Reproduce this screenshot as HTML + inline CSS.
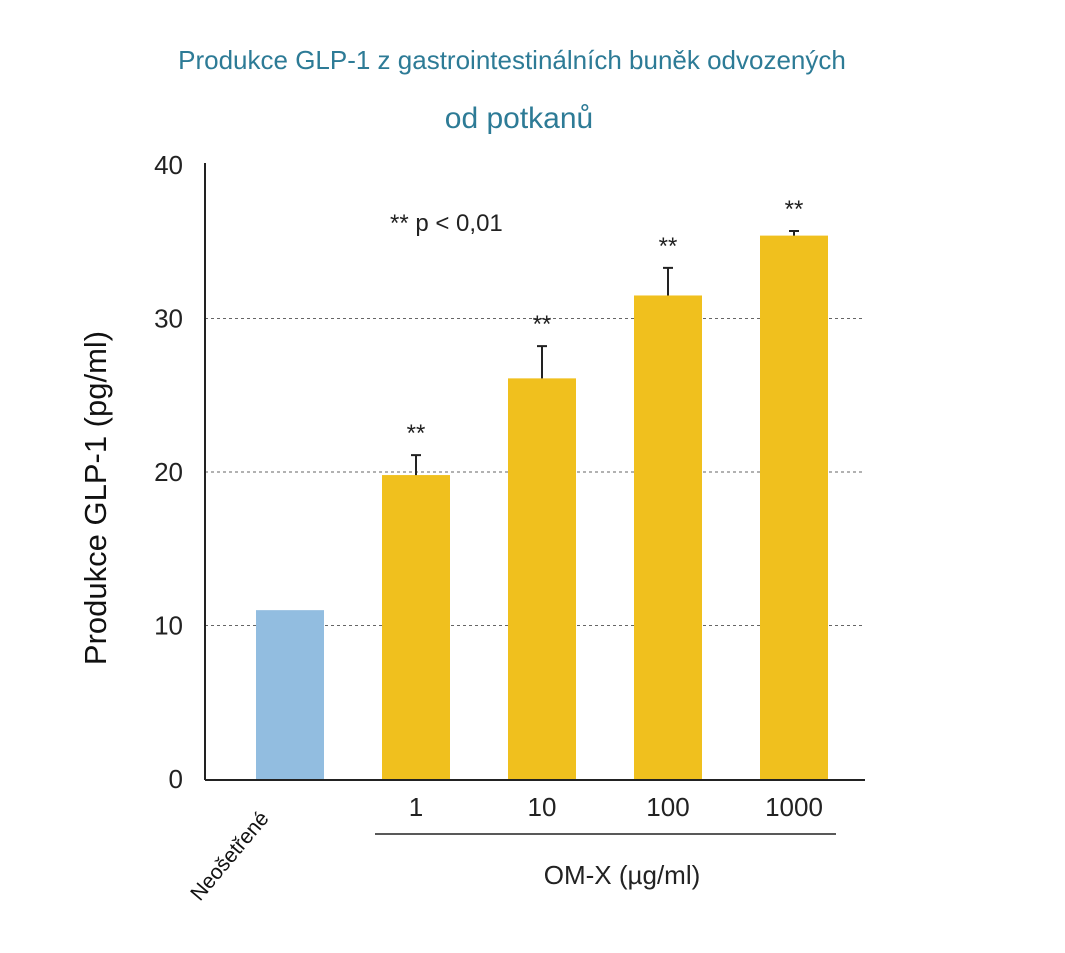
<!DOCTYPE html>
<html><head><meta charset="utf-8"><style>
body{margin:0;background:#fff;font-family:"Liberation Sans",sans-serif}
</style></head><body>
<svg id="chart" width="1065" height="948" xmlns="http://www.w3.org/2000/svg">
<text x="512" y="69" text-anchor="middle" font-size="26" fill="#2d7b96">Produkce GLP-1 z gastrointestinálních buněk odvozených</text>
<text x="519" y="128" text-anchor="middle" font-size="30" fill="#2d7b96">od potkanů</text>
<text transform="translate(106,498) rotate(-90)" text-anchor="middle" font-size="31" fill="#111">Produkce GLP-1 (pg/ml)</text>
<text x="390" y="231" font-size="24" fill="#222">** p &lt; 0,01</text>
<g id="grid"></g><g id="bars"></g><g id="ticks"></g>
<line x1="205" y1="163" x2="205" y2="780" stroke="#222" stroke-width="2"/>
<line x1="205" y1="780" x2="865" y2="780" stroke="#222" stroke-width="2"/>
<line x1="375" y1="834" x2="836" y2="834" stroke="#222" stroke-width="1.5"/>
<text x="622" y="884" text-anchor="middle" font-size="26" fill="#222">OM-X (µg/ml)</text>
<text transform="translate(200,902) rotate(-50)" font-size="21" fill="#111">Neošetřené</text>
</svg>
<script>
const categories=["Neošetřené","1","10","100","1000"];
const values=[11.0,19.8,26.1,31.5,35.4];
const errors=[0,1.3,2.1,1.8,0.3];
const sigMarks=["","**","**","**","**"];
const yTicks=[0,10,20,30,40];
const gridVals=[10,20,30];
const NS="http://www.w3.org/2000/svg";
const y=v=>779-v*15.35;
const xc=i=>290+i*126;
function mk(tag,attrs,parent,text){const e=document.createElementNS(NS,tag);for(const k in attrs)e.setAttribute(k,attrs[k]);if(text!==undefined)e.textContent=text;document.getElementById(parent).appendChild(e);return e;}
gridVals.forEach(v=>{const l=mk('line',{x1:205,x2:865,y1:y(v),y2:y(v),stroke:'#666','stroke-width':1,'stroke-dasharray':'3,3'},'grid');

});
yTicks.forEach(v=>{const t=mk('text',{x:183,y:y(v)+9,'text-anchor':'end','font-size':26,fill:'#222'},'ticks',String(v));

});
values.forEach((v,i)=>{
const r=mk('rect',{x:xc(i)-34,y:y(v),width:68,height:y(0)-y(v),fill:i===0?'#92bde0':'#f0c01e'},'bars');


if(errors[i]>0){const e=mk('path',{d:`M${xc(i)} ${y(v)} V${y(v+errors[i])} M${xc(i)-5} ${y(v+errors[i])} H${xc(i)+5}`,stroke:'#222','stroke-width':2,fill:'none'},'bars');

}
if(sigMarks[i]){const s=mk('text',{x:xc(i),y:y(v+errors[i])-14,'text-anchor':'middle','font-size':24,fill:'#222'},'bars',sigMarks[i]);

}
if(i>0){const t=mk('text',{x:xc(i),y:816,'text-anchor':'middle','font-size':26,fill:'#222'},'ticks',categories[i]);

}
});
</script>
</body></html>
